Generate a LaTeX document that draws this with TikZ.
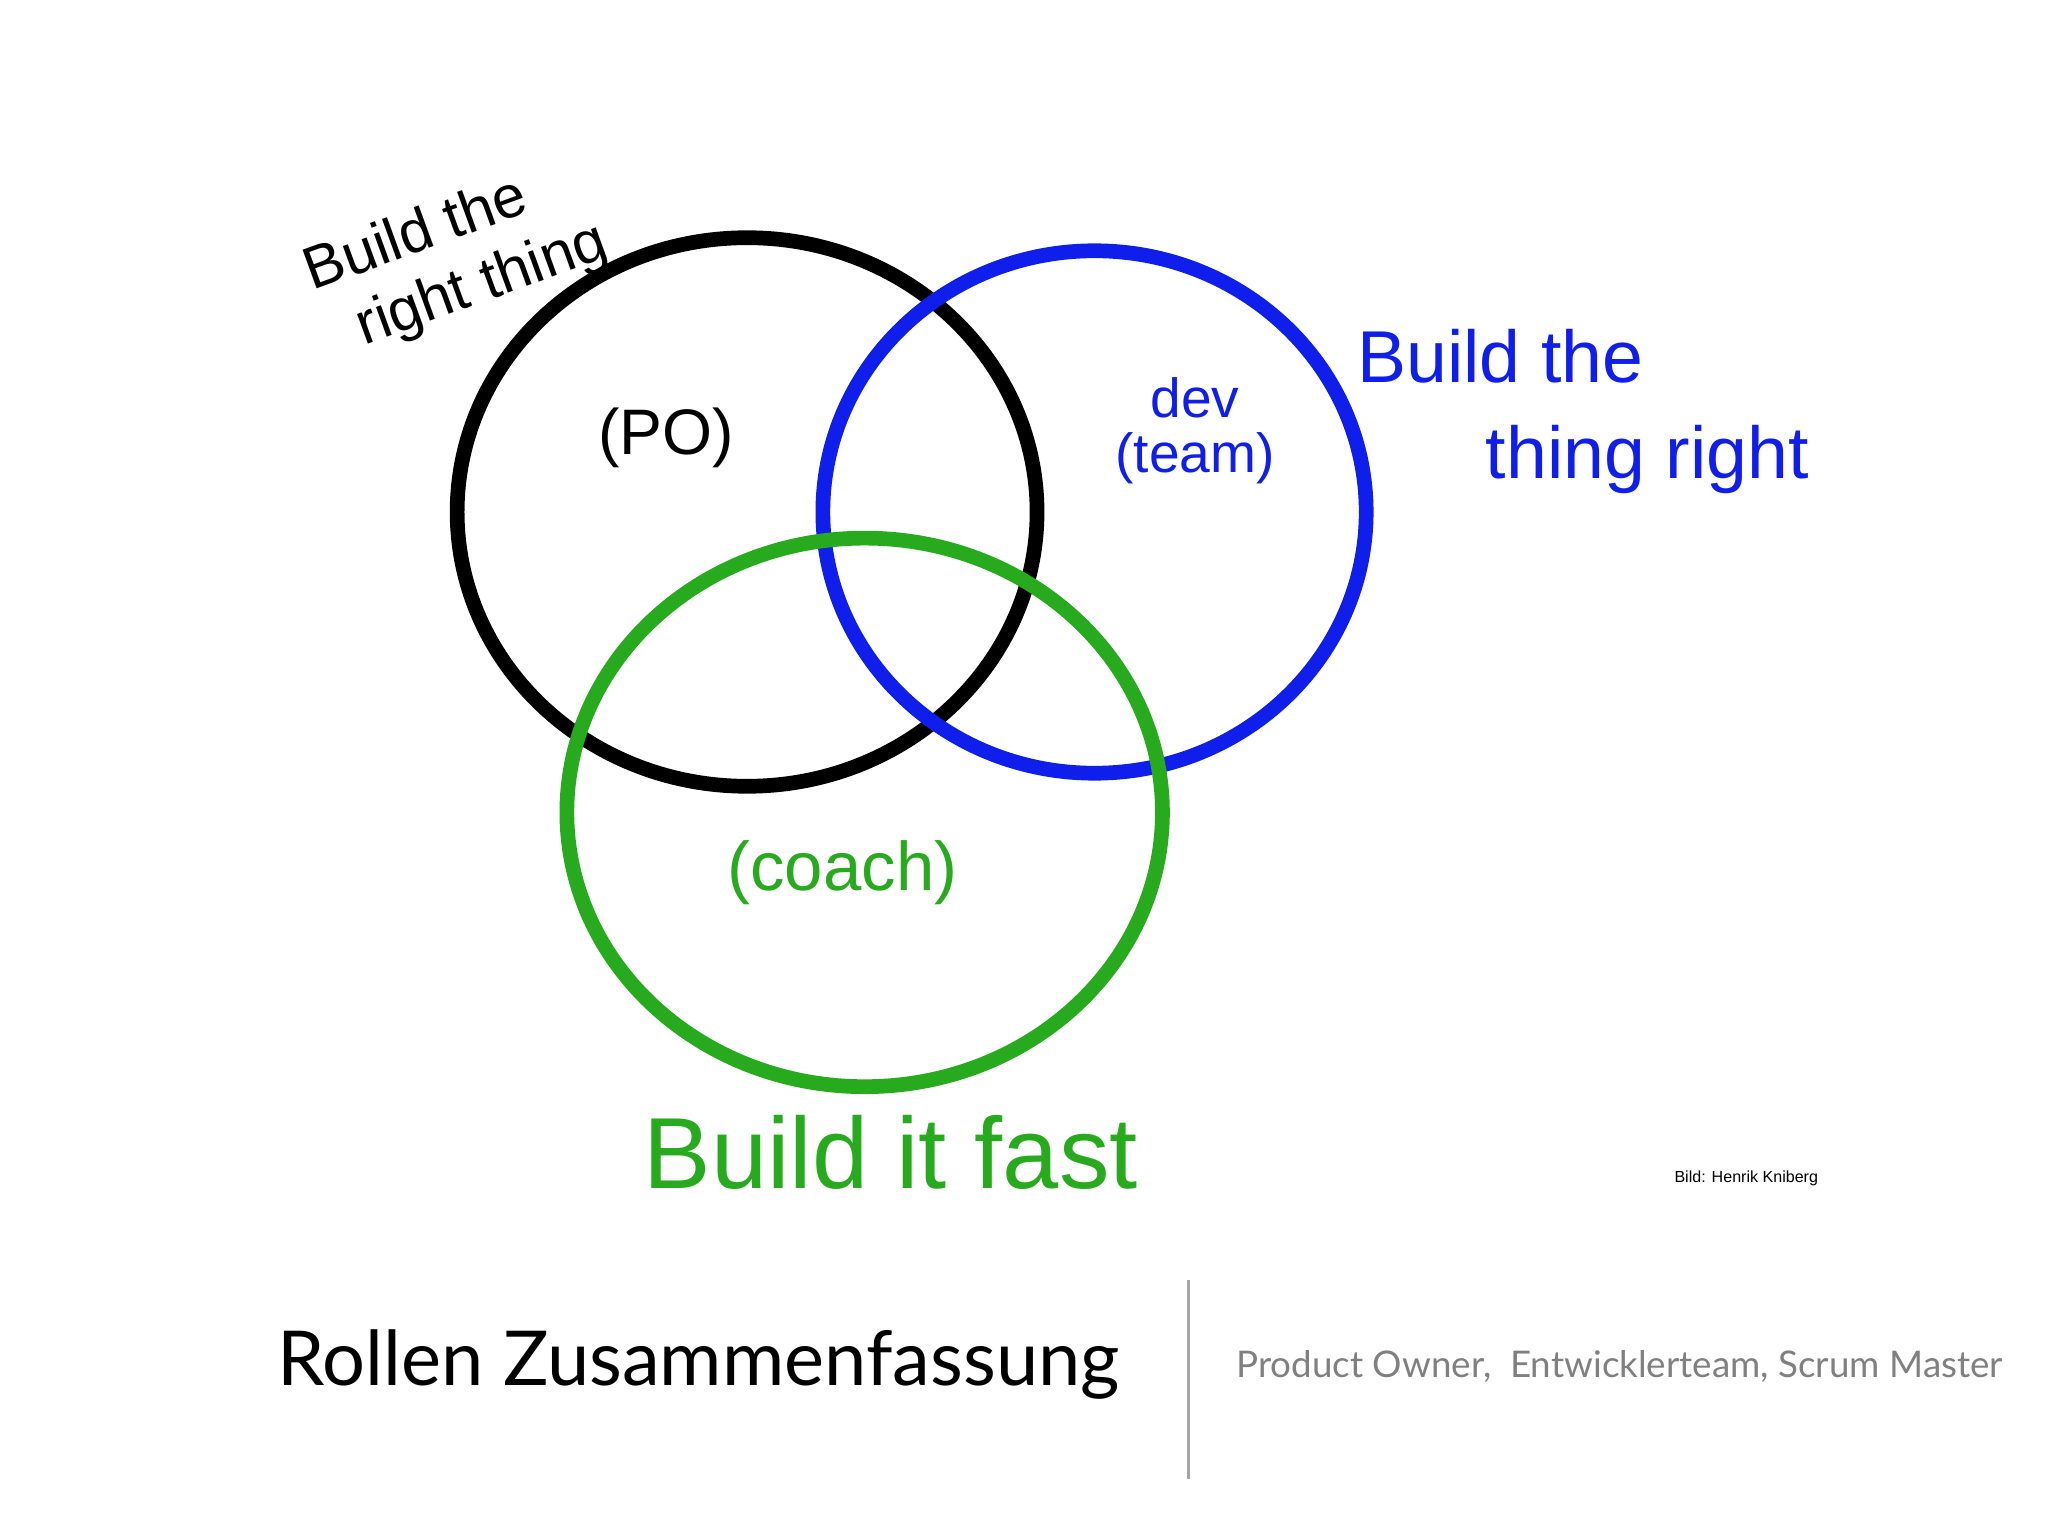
\documentclass[tikz,border=0pt]{standalone}
\usepackage{fontspec}
\setmainfont{Lato}
\begin{document}
\begin{tikzpicture}[x=0.01cm,y=-0.01cm,
  ring/.style={line width=3.2pt},
  hw/.style={align=center, inner sep=0pt}]
\useasboundingbox (0,0) rectangle (1568,1176);
\definecolor{hblue}{RGB}{15,30,235}
\definecolor{hgreen}{RGB}{40,170,30}
\draw[ring,black] (572,392) ellipse [x radius=222,y radius=210];
\draw[ring,hblue] (838,392) ellipse [x radius=208,y radius=200];
\draw[ring,hgreen] (662,622) ellipse [x radius=228,y radius=210];
\node[hw,rotate=20,font=\fontspec{Liberation Sans}\fontsize{13}{15}\selectfont] (l1) at (328,206) {Build the\\\hspace*{1.5em}right thing};
\node[hw,font=\fontspec{Liberation Sans}\fontsize{14}{16}\selectfont] (po) at (510,335) {(PO)};
\node[hw,hblue,font=\fontspec{Liberation Sans}\fontsize{12}{12}\selectfont] (dev) at (915,330) {dev\\(team)};
\node[hw,hblue,font=\fontspec{Liberation Sans}\fontsize{16}{21}\selectfont] (l2) at (1205,315) {Build the\hspace*{2em}\\\hspace*{2em}thing right};
\node[hw,hgreen,font=\fontspec{Liberation Sans}\fontsize{15}{17}\selectfont] (coach) at (645,668) {(coach)};
\node[hw,hgreen,font=\fontspec{Liberation Sans}\fontsize{22}{24}\selectfont] (l3) at (682,882) {Build it fast};
\node[inner sep=0pt,font=\fontspec{Liberation Sans}\fontsize{3.5}{4}\selectfont] (bild) at (1337,902) {Bild: Henrik Kniberg};
\node[inner sep=0pt,font=\fontsize{16.5}{18}\selectfont] (title) at (535,1045) {Rollen Zusammenfassung};
\draw[gray!70,line width=0.5pt] (910,980) -- (910,1132);
\node[inner sep=0pt,gray,font=\fontsize{8}{9}\selectfont] (sub) at (1240,1046) {Product Owner,\ \ Entwicklerteam, Scrum Master};
\end{tikzpicture}
\end{document}
